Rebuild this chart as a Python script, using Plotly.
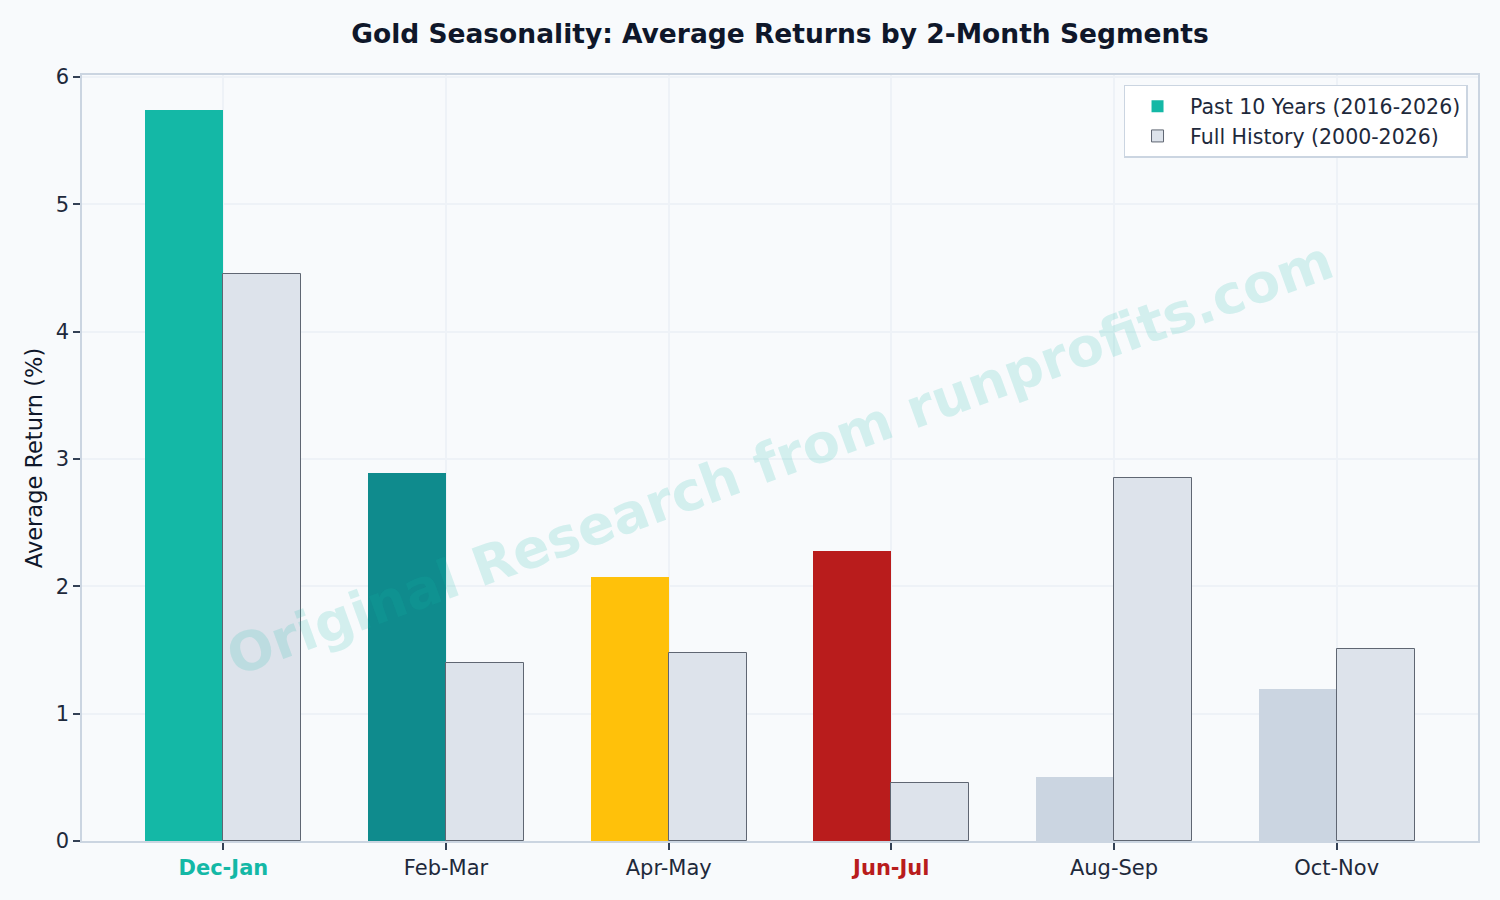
import plotly.graph_objects as go

segments = ["Dec-Jan", "Feb-Mar", "Apr-May", "Jun-Jul", "Aug-Sep", "Oct-Nov"]
past_10 = [5.74, 2.89, 2.07, 2.28, 0.50, 1.19]
full_hist = [4.45, 1.40, 1.48, 0.455, 2.85, 1.51]
past_colors = ["#14b8a6", "#0f8b8d", "#ffc10a", "#b91c1c", "#cbd5e1", "#cbd5e1"]
label_colors = ["#14b8a6", "#1e293b", "#1e293b", "#b91c1c", "#1e293b", "#1e293b"]
label_bold = [True, False, False, True, False, False]

idx = list(range(len(segments)))
w = 0.35

ticktext = []
for s, c, b in zip(segments, label_colors, label_bold):
    t = f"<span style='color:{c}'>{s}</span>"
    if b:
        t = f"<b>{t}</b>"
    ticktext.append(t)

fig = go.Figure()
fig.add_trace(go.Bar(
    x=[i - w / 2 for i in idx], y=past_10, width=w,
    marker=dict(color=past_colors, line=dict(width=0)),
    name="Past 10 Years (2016-2026)",
))
fig.add_trace(go.Bar(
    x=[i + w / 2 for i in idx], y=full_hist, width=w,
    marker=dict(color="#dde3eb", line=dict(color="#5f6672", width=1)),
    name="Full History (2000-2026)",
))

fig.add_annotation(
    text="Original Research from runprofits.com",
    x=0.5, y=0.5, xref="paper", yref="paper",
    xanchor="center", yanchor="middle",
    textangle=-20, showarrow=False,
    font=dict(family="DejaVu Sans", size=54, color="rgba(20,184,166,0.16)", weight="bold"),
)

fig.update_layout(
    width=1500, height=900,
    paper_bgcolor="#f8fafc", plot_bgcolor="#f8fafc",
    margin=dict(l=82, r=22, t=75, b=59),
    font=dict(family="DejaVu Sans", size=21, color="#1e293b"),
    title=dict(text="<b>Gold Seasonality: Average Returns by 2-Month Segments</b>",
               x=0.5, xref="paper", xanchor="center", y=0.962, yanchor="middle",
               font=dict(size=26.5, color="#0f172a")),
    barmode="overlay",
    showlegend=True,
    legend=dict(x=0.9925, y=0.987, xanchor="right", yanchor="top",
                bgcolor="#ffffff", bordercolor="#cbd5e1", borderwidth=1.5,
                font=dict(size=20.5, color="#1e293b"), tracegroupgap=2,
                itemwidth=55),
    bargap=0,
)
fig.update_xaxes(
    range=[-0.635, 5.635], tickvals=idx, ticktext=ticktext,
    showgrid=True, gridcolor="#eef2f7", gridwidth=1.5,
    showline=True, linecolor="#cbd5e1", linewidth=1.5, mirror=True,
    ticks="outside", ticklen=7, tickcolor="#334155", tickwidth=1.5,
    layer="above traces", zeroline=False,
    tickfont=dict(size=21),
)
fig.update_yaxes(
    range=[0, 6.015], tickvals=[0, 1, 2, 3, 4, 5, 6],
    showgrid=True, gridcolor="#eef2f7", gridwidth=1.5,
    showline=True, linecolor="#cbd5e1", linewidth=1.5, mirror=True,
    ticks="outside", ticklen=7, tickcolor="#334155", tickwidth=1.5,
    layer="above traces", zeroline=False,
    tickfont=dict(size=21),
    title=dict(text="Average Return (%)", font=dict(size=22.5, color="#0f172a"), standoff=7),
)

fig.write_html("out.html")
